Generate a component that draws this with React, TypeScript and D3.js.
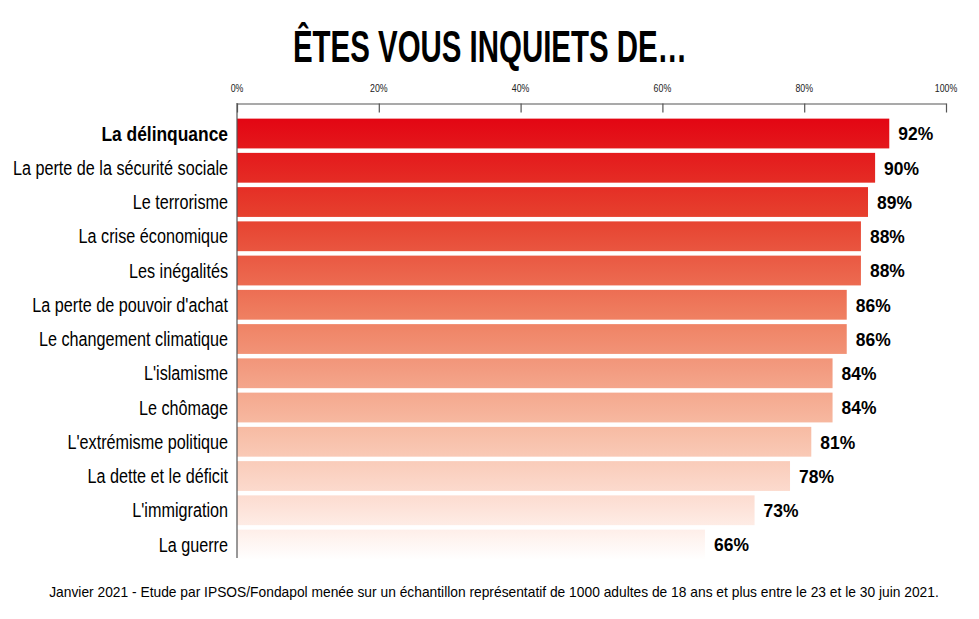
import React, { useEffect, useRef } from "react";
import * as d3 from "d3";

const categories = [
  "La délinquance",
  "La perte de la sécurité sociale",
  "Le terrorisme",
  "La crise économique",
  "Les inégalités",
  "La perte de pouvoir d'achat",
  "Le changement climatique",
  "L'islamisme",
  "Le chômage",
  "L'extrémisme politique",
  "La dette et le déficit",
  "L'immigration",
  "La guerre",
];
const values = [92, 90, 89, 88, 88, 86, 86, 84, 84, 81, 78, 73, 66];
const tickValues = [0, 20, 40, 60, 80, 100];
const title = "ÊTES VOUS INQUIETS DE…";
const footer =
  "Janvier 2021 - Etude par IPSOS/Fondapol menée sur un échantillon représentatif de 1000 adultes de 18 ans et plus entre le 23 et le 30 juin 2021.";

const W = 979;
const H = 619;
const FONT = "'Liberation Sans', Arial, sans-serif";

type Opt = { size: number; weight?: string; anchor?: string; sx: number; dy?: string };

function addText(
  g: d3.Selection<any, any, any, any>,
  x: number,
  y: number,
  text: string,
  o: Opt
) {
  return g
    .append("text")
    .attr("transform", `translate(${x},${y}) scale(${o.sx},1)`)
    .attr("dy", o.dy ?? "0")
    .attr("text-anchor", o.anchor ?? "start")
    .attr("font-family", FONT)
    .attr("font-size", o.size)
    .attr("font-weight", o.weight ?? "normal")
    .attr("fill", "#000")
    .text(text);
}

export default function App() {
  const ref = useRef<SVGSVGElement | null>(null);

  useEffect(() => {
    const svg = d3.select(ref.current);
    svg.selectAll("*").remove();

    const x = d3.scaleLinear().domain([0, 100]).range([237, 946]);
    const y = d3
      .scaleBand<string>()
      .domain(categories)
      .range([116.4, 116.4 + 13 * 34.25])
      .paddingInner(0.13)
      .paddingOuter(0.065);

    const defs = svg.append("defs");
    const grad = defs
      .append("linearGradient")
      .attr("id", "barGrad")
      .attr("gradientUnits", "userSpaceOnUse")
      .attr("x1", 0)
      .attr("x2", 0)
      .attr("y1", 119)
      .attr("y2", 560);
    const stops: [number, string][] = [
      [0, "#e30613"],
      [0.22, "#e6402e"],
      [0.45, "#ef7f61"],
      [0.7, "#f7bba3"],
      [0.88, "#fde2d8"],
      [1, "#ffffff"],
    ];
    stops.forEach(([o, c]) => grad.append("stop").attr("offset", o).attr("stop-color", c));

    addText(svg, 490, 62, title, { size: 45, weight: "bold", anchor: "middle", sx: 0.654 });

    const axis = d3
      .axisTop(x)
      .tickValues(tickValues)
      .tickFormat(() => "")
      .tickSizeInner(-9)
      .tickSizeOuter(0);
    const ag = svg.append("g").attr("transform", "translate(0,103.5)").call(axis);
    ag.select(".domain").attr("stroke", "#555").attr("stroke-width", 1.2);
    ag.selectAll(".tick line").attr("stroke", "#555").attr("stroke-width", 1.2);

    const tg = svg.append("g");
    tickValues.forEach((t) =>
      addText(tg, x(t), 92, `${t}%`, { size: 11, anchor: "middle", sx: 0.8 }).attr("fill", "#222")
    );

    svg
      .append("g")
      .selectAll("rect")
      .data(values)
      .join("rect")
      .attr("x", x(0))
      .attr("y", (_, i) => y(categories[i]) as number)
      .attr("width", (d) => x(d) - x(0))
      .attr("height", y.bandwidth())
      .attr("fill", "url(#barGrad)");

    svg
      .append("line")
      .attr("x1", x(0))
      .attr("x2", x(0))
      .attr("y1", 103)
      .attr("y2", 558)
      .attr("stroke", "#555")
      .attr("stroke-width", 1.2);

    const lg = svg.append("g");
    categories.forEach((c, i) =>
      addText(lg, 228, (y(c) as number) + y.bandwidth() / 2, c, {
        size: 20,
        weight: i === 0 ? "bold" : "normal",
        anchor: "end",
        sx: i === 0 ? 0.87 : 0.81,
        dy: "0.35em",
      })
    );

    const vg = svg.append("g");
    values.forEach((v, i) =>
      addText(vg, x(v) + 9, (y(categories[i]) as number) + y.bandwidth() / 2, `${v}%`, {
        size: 19,
        weight: "bold",
        sx: 0.92,
        dy: "0.36em",
      })
    );

    addText(svg, 494, 597, footer, { size: 15, anchor: "middle", sx: 0.92 });
  }, []);

  return (
    <svg
      ref={ref}
      width={W}
      height={H}
      style={{ position: "absolute", left: 0, top: 0, background: "#fff" }}
    />
  );
}
